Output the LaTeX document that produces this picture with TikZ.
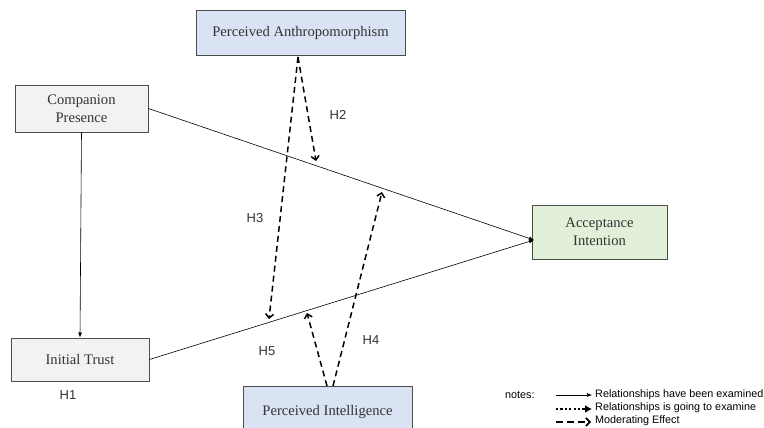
\documentclass[tikz,border=0pt]{standalone}
\usepackage{fontspec}
\setmainfont{Liberation Serif}
\setsansfont{Liberation Sans}
\usetikzlibrary{arrows.meta}

\definecolor{boxgray}{HTML}{F2F2F2}
\definecolor{boxblue}{HTML}{DAE3F3}
\definecolor{boxgreen}{HTML}{E2F0D9}
\definecolor{textgray}{HTML}{333333}

\begin{document}
\begin{tikzpicture}[x=1pt,y=-1pt,
    box/.style={draw=black!70, line width=0.9pt, align=center, text=textgray,
                font=\fontsize{14.6}{17.5}\selectfont, inner sep=0pt},
    hlabel/.style={font=\sffamily\fontsize{13}{15}\selectfont, text=textgray},
    notetext/.style={font=\sffamily\fontsize{10.8}{12}\selectfont, anchor=west, inner sep=0pt},
    examined/.style={line width=0.6pt, -{Latex[length=5pt,width=4pt]}},
    moderating/.style={line width=1.5pt, dash pattern=on 6pt off 4pt,
                       -{Straight Barb[length=4pt,width=8pt]}}]
    \useasboundingbox (0,0) rectangle (764,428);
    \fill[white] (0,0) rectangle (764,428);

    % boxes
    \node[box, fill=boxblue, minimum width=209pt, minimum height=45pt] (PA) at (300.5,32.5) {Perceived Anthropomorphism};
    \node[box, fill=boxgray, minimum width=133pt, minimum height=47pt] (CP) at (81.5,108.5) {Companion\\Presence};
    \node[box, fill=boxgray, minimum width=138pt, minimum height=43pt] (IT) at (80,359.5) {Initial Trust};
    \node[box, fill=boxgreen, minimum width=135pt, minimum height=54pt] (AI) at (599.5,232) {Acceptance\\Intention};
    \node[box, fill=boxblue, minimum width=169pt, minimum height=48pt, text depth=0pt] (PI) at (327.5,410) {Perceived Intelligence};

    % direct paths
    \coordinate (aiin) at (534,240);
    \draw[examined] (CP.east) -- (aiin);
    \draw[examined] (IT.east) -- (aiin);
    \draw[examined] (CP.south) -- (IT.north);

    % moderating effects
    \coordinate (paout) at (298,57);
    \coordinate (h2tip) at (316,161);
    \coordinate (h3tip) at (269,319);
    \coordinate (h4out) at (333,386);
    \coordinate (h4tip) at (382,192);
    \coordinate (h5out) at (327,386);
    \coordinate (h5tip) at (307,313);
    \draw[moderating] (paout) -- (h2tip);
    \draw[moderating] (paout) -- (h3tip);
    \draw[moderating] (h4out) -- (h4tip);
    \draw[moderating] (h5out) -- (h5tip);

    % hypothesis labels
    \node[hlabel] (H1) at (68,395) {H1};
    \node[hlabel] (H2) at (338,115) {H2};
    \node[hlabel] (H3) at (255,218) {H3};
    \node[hlabel] (H4) at (371,340) {H4};
    \node[hlabel] (H5) at (267,351) {H5};

    % notes
    \node[notetext] (notes) at (505,395) {notes:};
    \coordinate (n1a) at (556,395);
    \coordinate (n1b) at (592,395);
    \coordinate (n2a) at (556,409);
    \coordinate (n2b) at (592,409);
    \coordinate (n3a) at (556,422);
    \coordinate (n3b) at (591,422);
    \draw[examined] (n1a) -- (n1b);
    \draw[line width=2.2pt, dash pattern=on 2.2pt off 2.2pt, -{Latex[length=7pt,width=8pt]}] (n2a) -- (n2b);
    \draw[line width=1.6pt, dash pattern=on 7pt off 4pt, -{Straight Barb[length=4pt,width=8pt]}] (n3a) -- (n3b);
    \node[notetext] (t1) at (595,395) {Relationships have been examined};
    \node[notetext] (t2) at (595,408) {Relationships is going to examine};
    \node[notetext] (t3) at (595,421) {Moderating Effect};
\end{tikzpicture}
\end{document}
